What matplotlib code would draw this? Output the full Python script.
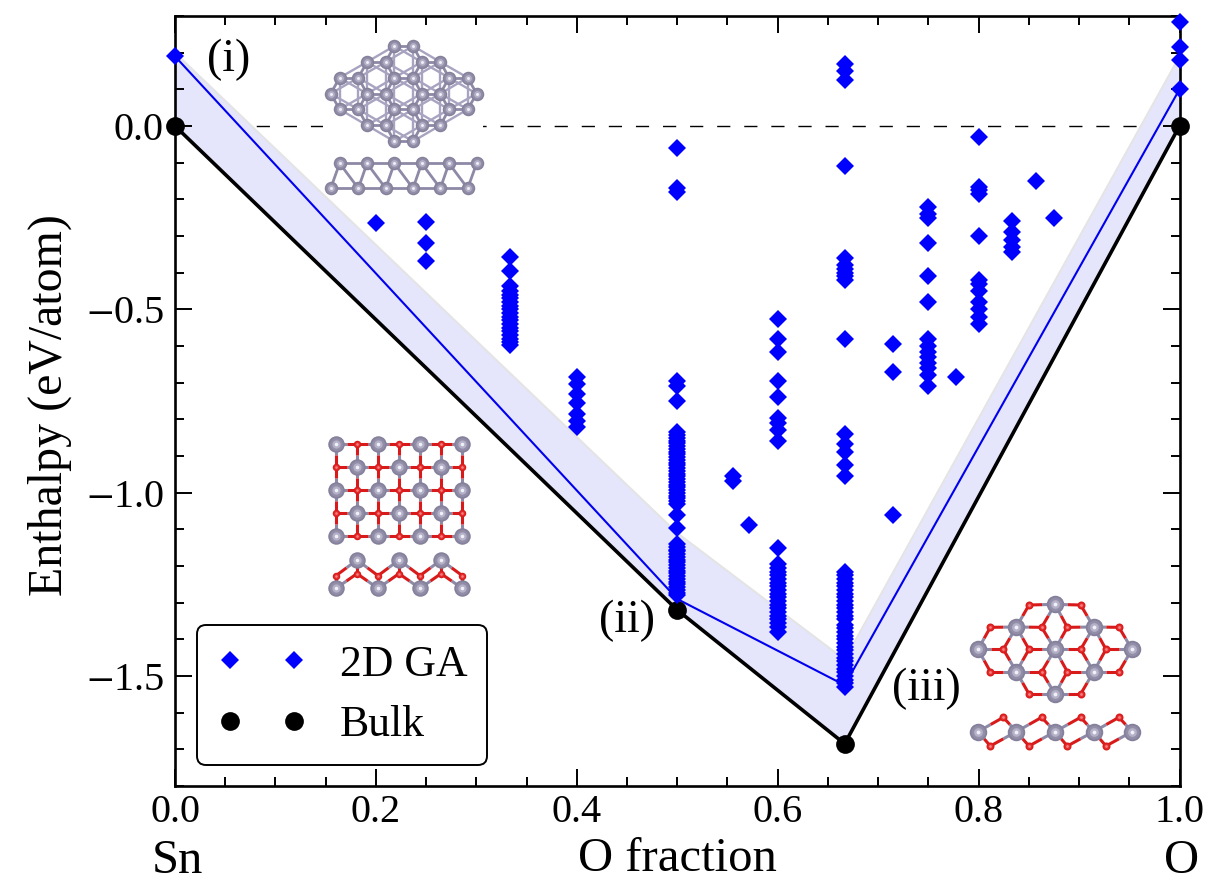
import numpy as np
import matplotlib
matplotlib.use("Agg")
import matplotlib.pyplot as plt
from matplotlib.patches import Rectangle
from matplotlib.ticker import MultipleLocator

plt.rcParams['font.family'] = ['Liberation Serif', 'DejaVu Serif']
plt.rcParams['mathtext.fontset'] = 'stix'

# O fraction -> enthalpies of the GA structures
x_vals = [0.0, 0.2, 0.25, 1/3, 0.4, 0.5, 5/9, 4/7, 0.6, 2/3, 5/7, 0.75, 7/9, 0.8, 5/6, 6/7, 7/8, 1.0]
e_vals = [
    [0.19],
    [-0.265],
    [-0.262, -0.32, -0.368],
    [-0.357, -0.395, -0.435, -0.45, -0.46, -0.47, -0.48, -0.49, -0.5, -0.51, -0.52, -0.53,
     -0.54, -0.55, -0.56, -0.57, -0.58, -0.59, -0.597],
    [-0.685, -0.705, -0.73, -0.755, -0.785, -0.805, -0.82],
    [-0.06, -0.17, -0.18, -0.695, -0.71, -0.75, -0.835, -0.843, -0.85, -0.858, -0.865, -0.873, -0.88,
     -0.888, -0.895, -0.903, -0.91, -0.918, -0.925, -0.933, -0.94, -0.948, -0.955, -0.963, -0.97,
     -0.978, -0.985, -0.993, -1.0, -1.008, -1.015, -1.022, -1.03, -1.06, -1.095, -1.14, -1.147, -1.155,
     -1.16, -1.168, -1.175, -1.183, -1.19, -1.198, -1.205, -1.213, -1.22, -1.228, -1.235, -1.243,
     -1.25, -1.258, -1.265, -1.273, -1.28],
    [-0.955, -0.968],
    [-1.087],
    [-0.525, -0.58, -0.615, -0.695, -0.74, -0.795, -0.81, -0.83, -0.86, -1.15, -1.195, -1.205, -1.215,
     -1.225, -1.235, -1.245, -1.255, -1.265, -1.275, -1.285, -1.295, -1.305, -1.315, -1.325, -1.335,
     -1.345, -1.355, -1.365, -1.38],
    [0.17, 0.15, 0.125, -0.11, -0.36, -0.38, -0.39, -0.4, -0.41, -0.42, -0.58, -0.84, -0.867, -0.89,
     -0.924, -0.955, -1.215, -1.225, -1.235, -1.245, -1.255, -1.265, -1.275, -1.285, -1.295, -1.305,
     -1.315, -1.325, -1.335, -1.345, -1.36, -1.37, -1.38, -1.39, -1.4, -1.41, -1.42, -1.43, -1.44,
     -1.45, -1.46, -1.47, -1.48, -1.49, -1.5, -1.51, -1.52, -1.53],
    [-0.595, -0.67, -1.06],
    [-0.22, -0.24, -0.25, -0.32, -0.41, -0.48, -0.58, -0.6, -0.615, -0.63, -0.645, -0.66, -0.68, -0.71],
    [-0.685],
    [-0.03, -0.165, -0.175, -0.185, -0.3, -0.42, -0.43, -0.45, -0.48, -0.5, -0.52, -0.54],
    [-0.26, -0.29, -0.31, -0.33, -0.345],
    [-0.15],
    [-0.25],
    [0.283, 0.215, 0.18, 0.10],
]

# hull lines
bulk_x = [0.0, 0.5, 2/3, 1.0]
bulk_e = [0.0, -1.32, -1.685, 0.0]
ga_x = [0.0, 0.5, 2/3, 1.0]
ga_e = [0.19, -1.29, -1.525, 0.10]
band_top = [0.2, -1.11, -1.455, 0.19]

y_ticks = [0.0, -0.5, -1.0, -1.5]
y_tick_labels = ['0.0', '$-$0.5', '$-$1.0', '$-$1.5']

# atoms of the insets, in zoomed picture units
sn_top_rows = [(78, [253, 309]), (126, [171, 227, 335, 391]), (173, [89, 145, 253, 309, 417, 473]),
               (221, [62, 171, 227, 335, 391, 500]), (268, [89, 145, 253, 309, 417, 473]),
               (316, [171, 227, 335, 391]), (364, [253, 309])]
sn_side_rows = [(430, [89, 171, 253, 335, 417, 500]), (505, [62, 145, 227, 309, 391, 473])]

sno_sn_rows = [(71, [78, 204, 330, 457]), (140, [141, 267, 393]), (209, [78, 204, 330, 457]),
               (278, [141, 267, 393]), (347, [78, 204, 330, 457])]
sno_o_rows = [(71, [141, 267, 393]), (140, [78, 204, 330, 457]), (209, [141, 267, 393]),
              (278, [78, 204, 330, 457]), (347, [141, 267, 393])]
sno_side_sn = [(420, [141, 267, 393]), (505, [78, 204, 330, 457])]
sno_side_o = [(467, [78, 204, 330, 457]), (461, [141, 267, 393])]

sno2_sn_rows = [(73, [315]), (141, [199, 431]), (208, [84, 315, 546]), (275, [199, 431]), (342, [315])]
sno2_o_rows = [(75, [237, 392]), (142, [121, 275, 352, 507]), (208, [160, 237, 392, 468]),
               (275, [121, 275, 352, 507]), (342, [237, 392])]
sno2_side_sn = [(455, [84, 199, 315, 431, 546])]
sno2_side_o = [(412, [160, 275, 392, 507]), (498, [121, 237, 352, 468])]

SN = '#85809b'
OX = '#d91a1a'
BOND = '#a8a3c0'
BOND_DARK = '#8e89a6'

fig = plt.figure(figsize=(12.1, 8.83), dpi=100)
ax = fig.add_axes([175/1210, 1-786/883, 1004.5/1210, 770/883])
ax.set_xlim(0, 1)
ax.set_ylim(-1.8, 0.3)

over = fig.add_axes([0, 0, 1, 1], zorder=10)
over.set_xlim(0, 1210)
over.set_ylim(883, 0)
over.axis('off')
over.patch.set_alpha(0)

ax.plot([0, 1], [0, 0], color='k', lw=1.0, dashes=(9.5, 10), zorder=1)
ax.add_patch(Rectangle((323, 30), 160, 166, transform=over.transData, fc='white', ec='none', zorder=1.2))
ax.fill_between(bulk_x, bulk_e, band_top, color='#e5e5fb', lw=0, zorder=1.5)
ax.plot(bulk_x, band_top, color='#e4e4e4', lw=1.4, zorder=1.6)
ax.plot(ga_x, ga_e, color='#0000ee', lw=1.5, zorder=2)
ax.plot(bulk_x, bulk_e, color='k', lw=2.6, zorder=2.1)
bulk_pts, = ax.plot(bulk_x, bulk_e, 'o', color='k', ms=13.5, mew=0, clip_on=False, zorder=5)

px = []
py = []
for x, es in zip(x_vals, e_vals):
    for e in es:
        px.append(x)
        py.append(e)
ga_pts, = ax.plot(px, py, 'D', color='#0000ff', ms=9.3, mew=0, clip_on=False, zorder=6)

ax.xaxis.set_major_locator(MultipleLocator(0.2))
ax.xaxis.set_minor_locator(MultipleLocator(0.05))
ax.yaxis.set_minor_locator(MultipleLocator(0.1))
ax.set_yticks(y_ticks)
ax.set_yticklabels(y_tick_labels)
ax.tick_params(which='major', direction='in', top=True, right=True, length=12.5, width=1.4, labelsize=29)
ax.tick_params(which='minor', direction='in', top=True, right=True, length=6.5, width=1.4)
ax.tick_params(axis='x', which='major', pad=6)
ax.tick_params(axis='y', which='major', pad=8)
for s in ax.spines.values():
    s.set_linewidth(1.9)

ax.set_ylabel('Enthalpy (eV/atom)', fontsize=34.5)
ax.yaxis.set_label_coords(-0.1025, 0.495)
ax.set_xlabel('O fraction', fontsize=35, labelpad=4)
ax.text(0.002, -2.005, 'Sn', fontsize=35, ha='center', va='center')
ax.text(1.002, -2.005, 'O', fontsize=35, ha='center', va='center')
ax.text(0.053, 0.18, '(i)', fontsize=33, ha='center', va='center')
ax.text(0.450, -1.35, '(ii)', fontsize=33, ha='center', va='center')
ax.text(0.748, -1.535, '(iii)', fontsize=33, ha='center', va='center')

leg = ax.legend([ga_pts, bulk_pts], ['2D GA', 'Bulk'], numpoints=2, fontsize=31.5, loc='lower left',
                bbox_to_anchor=(0.0005, -0.0012), frameon=True, framealpha=1, edgecolor='k', fancybox=True,
                handlelength=2.05, handletextpad=0.75, labelspacing=0.47, borderpad=0.45)
leg.get_frame().set_linewidth(1.4)
leg.set_zorder(20)


def to_pts(rows, ox, oy):
    out = []
    for y, xs in rows:
        for x in xs:
            out.append((ox + x/3, oy + y/3))
    return out


def ball(pts, color, d, z):
    # shaded ball: plain disc, then lighter discs on it
    xs = [p[0] for p in pts]
    ys = [p[1] for p in pts]
    if color == SN:
        layers = [(1.0, color), (0.78, '#928ea8'), (0.5, '#b4b1c8'), (0.22, '#f0f0f8')]
    else:
        layers = [(1.0, color), (0.7, '#e42c2c'), (0.35, '#f28080')]
    for frac, c in layers:
        over.scatter(xs, ys, s=(d*frac*0.72)**2, color=c, lw=0, zorder=z)


def same_bonds(pts, cut, near=0):
    for i in range(len(pts)):
        for j in range(i+1, len(pts)):
            d = np.hypot(pts[i][0]-pts[j][0], pts[i][1]-pts[j][1])
            if d < cut:
                dark = d < near
                over.plot([pts[i][0], pts[j][0]], [pts[i][1], pts[j][1]],
                          color=BOND_DARK if dark else BOND, lw=2.0 if dark else 1.7,
                          solid_capstyle='round', zorder=2 if dark else 1)


def mixed_bonds(sn, ox, cut, lw=2.2):
    # half grey, half red
    for a in sn:
        for b in ox:
            if np.hypot(a[0]-b[0], a[1]-b[1]) < cut:
                m = ((a[0]+b[0])/2, (a[1]+b[1])/2)
                over.plot([a[0], m[0]], [a[1], m[1]], color=BOND_DARK, lw=lw, solid_capstyle='butt', zorder=1)
                over.plot([m[0], b[0]], [m[1], b[1]], color=OX, lw=lw, solid_capstyle='butt', zorder=1)


# Sn sheet
p = to_pts(sn_top_rows, 310, 20)
same_bonds(p, 100/3, 60/3)
ball(p, SN, 13.5, 3)
p = to_pts(sn_side_rows, 310, 20)
same_bonds(p, 100/3, 100/3)
ball(p, SN, 13.5, 3)

# SnO
sn = to_pts(sno_sn_rows, 310, 420)
ox = to_pts(sno_o_rows, 310, 420)
mixed_bonds(sn, ox, 72/3)
ball(ox, OX, 7.5, 3)
ball(sn, SN, 16.5, 4)
sn = to_pts(sno_side_sn, 310, 420)
ox = to_pts(sno_side_o, 310, 420)
mixed_bonds(sn, ox, 85/3)
ball(ox, OX, 7.5, 3)
ball(sn, SN, 16.5, 4)

# SnO2
sn = to_pts(sno2_sn_rows, 950, 580)
ox = to_pts(sno2_o_rows, 950, 580)
mixed_bonds(sn, ox, 85/3)
ball(ox, OX, 8, 3)
ball(sn, SN, 17.5, 4)
sn = to_pts(sno2_side_sn, 950, 580)
ox = to_pts(sno2_side_o, 950, 580)
mixed_bonds(sn, ox, 92/3)
ball(ox, OX, 8, 3)
ball(sn, SN, 17.5, 4)

fig.savefig('out.png', dpi=100)
